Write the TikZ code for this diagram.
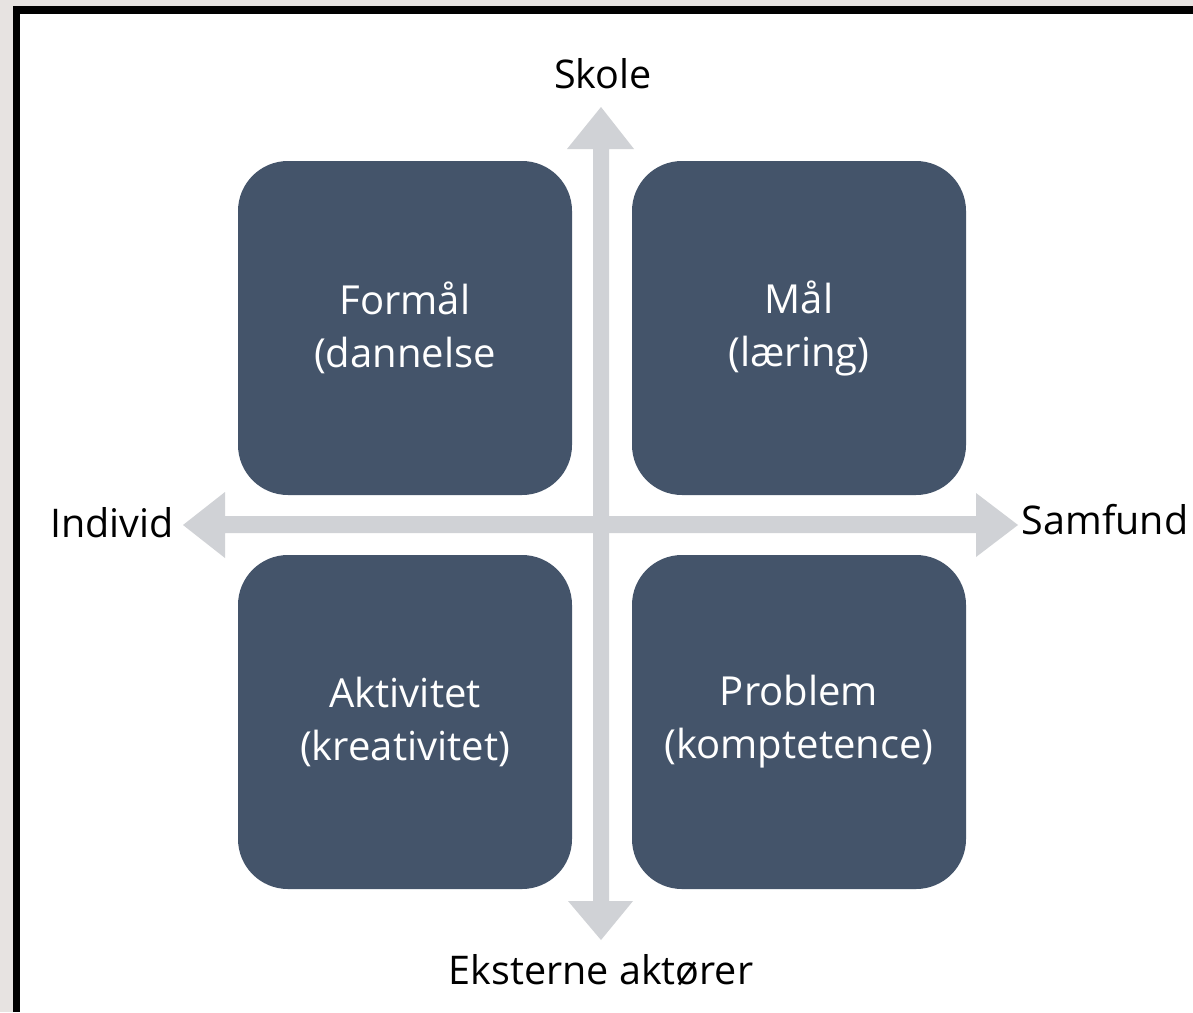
\documentclass[tikz,border=0pt]{standalone}
\usepackage{fontspec}
\setmainfont{Open Sans}
\definecolor{boxfill}{HTML}{44546A}
\definecolor{arrowgrey}{HTML}{D0D2D6}
\definecolor{outside}{HTML}{E7E3E1}
\begin{document}
\begin{tikzpicture}[x=1pt,y=-1pt,
  quad/.style={fill=boxfill, rounded corners=50pt, minimum width=334pt, minimum height=334pt, inner sep=0pt,
    text=white, align=center, font=\fontsize{40}{53}\selectfont},
  axislabel/.style={text=black, font=\fontsize{39.5}{44}\selectfont, inner sep=0pt},
  axisarrow/.style={fill=arrowgrey}]
\useasboundingbox (0,0) rectangle (1193,1012);
\fill[outside] (0,0) rectangle (1193,1012);
\fill[black] (13,6) rectangle (1193,1012);
\fill[white] (20,14) rectangle (1193,1012);
% axes
\fill[axisarrow] (593,149) -- (567,149) -- (601,107) -- (634,149) -- (609,149) -- (609,901) -- (633,901) -- (601,940) -- (568,901) -- (593,901) -- cycle;
\fill[axisarrow] (225,516) -- (225,492) -- (183,525) -- (225,558) -- (225,533) -- (976,533) -- (976,557) -- (1018,525) -- (976,493) -- (976,516) -- cycle;
% quadrants
\node[quad] (tl) at (405,328) {Formål\\(dannelse};
\node[quad] (tr) at (799,328) {Mål\\(læring)};
\node[quad] (bl) at (405,722) {Aktivitet\\(kreativitet)};
\node[quad] (br) at (799,722) {Problem\\(komptetence)};
% labels
\node[axislabel] (skole) at (603,74) {Skole};
\node[axislabel] (individ) at (112,523) {Individ};
\node[axislabel] (samfund) at (1105,520) {Samfund};
\node[axislabel] (ekst) at (601,970) {Eksterne aktører};
\end{tikzpicture}
\end{document}
